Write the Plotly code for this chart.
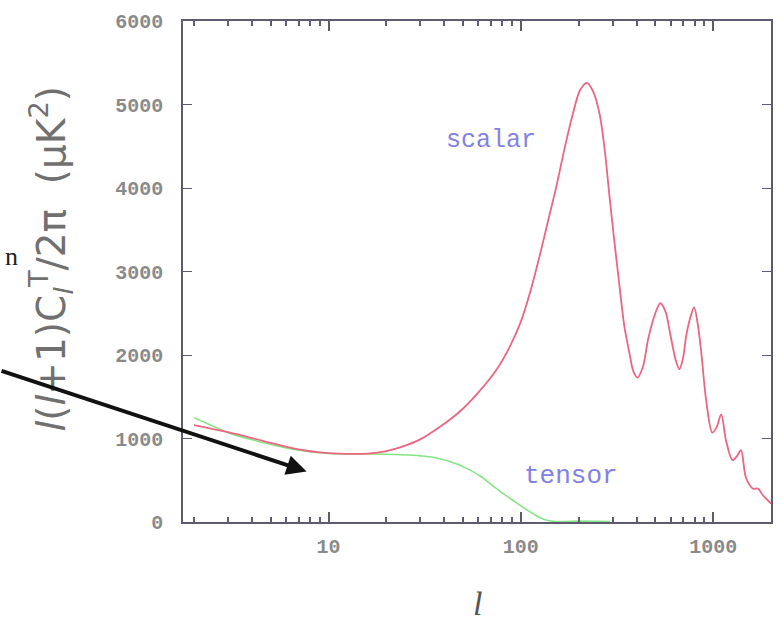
import plotly.graph_objects as go

# ---- data ----
scalar_l = [2, 3, 4.6, 7, 10, 13, 16, 20, 24, 30, 38, 48, 60, 75, 88, 100, 112, 125, 139, 153,
            169, 186, 203, 220, 237, 257, 273, 289, 305, 323, 345, 367, 385, 404, 430, 460, 500,
            531, 565, 599, 640, 666, 695, 725, 765, 796, 830, 866, 920, 989, 1040, 1100, 1167,
            1260, 1330, 1395, 1480, 1610, 1710, 1800, 1900, 2000]
scalar_d = [1160, 1075, 970, 870, 825, 815, 820, 850, 900, 990, 1140, 1320, 1550, 1830, 2110,
            2400, 2760, 3180, 3620, 4020, 4480, 4880, 5170, 5260, 5160, 4880, 4450, 3900, 3400,
            2900, 2350, 2020, 1800, 1730, 1850, 2200, 2500, 2620, 2520, 2240, 1930, 1830, 1950,
            2240, 2470, 2570, 2380, 2040, 1450, 1070, 1130, 1290, 970, 740, 790, 860, 530, 400,
            400, 330, 270, 220]

tensor_l = [2, 2.5, 3, 4.6, 7, 10, 15, 20, 24, 30, 35, 42, 52, 62, 71, 82, 95, 110, 125, 140,
            160, 200, 250, 290]
tensor_d = [1250, 1150, 1070, 950, 860, 820, 815, 812, 805, 792, 775, 730, 645, 545, 440, 330,
            230, 130, 55, 15, 5, 10, 8, 5]

x_major = [10, 100, 1000]
x_major_text = ["10", "100", "1000"]
x_minor = [2, 3, 4, 5, 6, 7, 8, 9, 20, 30, 40, 50, 60, 70, 80, 90,
           200, 300, 400, 500, 600, 700, 800, 900, 2000]
y_ticks = [0, 1000, 2000, 3000, 4000, 5000, 6000]

x_range = [0.2435, 3.3005]

# ---- figure ----
fig = go.Figure()
fig.add_trace(go.Scatter(x=tensor_l, y=tensor_d, mode="lines",
                         line=dict(color="#86e486", width=1.6, shape="spline", smoothing=0.9),
                         showlegend=False, hoverinfo="skip"))
fig.add_trace(go.Scatter(x=scalar_l, y=scalar_d, mode="lines",
                         line=dict(color="#ec6682", width=1.8, shape="spline", smoothing=0.9),
                         showlegend=False, hoverinfo="skip"))
# invisible trace so the top tick axis is drawn
fig.add_trace(go.Scatter(x=[10], y=[0], xaxis="x2", mode="markers",
                         marker=dict(opacity=0), showlegend=False, hoverinfo="skip"))

axis_col = "#5f5a70"
tick_font = dict(family="Liberation Mono", size=20, color="#8a8a8a", weight="bold")

fig.update_layout(
    width=784, height=644,
    margin=dict(l=183, r=11, t=17, b=122),
    paper_bgcolor="white", plot_bgcolor="white",
    xaxis=dict(type="log", range=x_range,
               tickmode="array", tickvals=x_major, ticktext=x_major_text,
               ticks="inside", ticklen=10, tickwidth=1.5, tickcolor=axis_col,
               minor=dict(tickmode="array", tickvals=x_minor, ticks="inside",
                          ticklen=5, tickwidth=1.5, tickcolor=axis_col, showgrid=False),
               showline=True, linecolor=axis_col, linewidth=1.5, mirror=True,
               showgrid=False, zeroline=False, tickfont=tick_font, ticklabelstandoff=5),
    xaxis2=dict(type="log", range=x_range, overlaying="x", anchor="y", side="top",
                tickmode="array", tickvals=x_major, showticklabels=False,
                ticks="inside", ticklen=10, tickwidth=1.5, tickcolor=axis_col,
                minor=dict(tickmode="array", tickvals=x_minor, ticks="inside",
                           ticklen=5, tickwidth=1.5, tickcolor=axis_col, showgrid=False),
                showline=False, showgrid=False, zeroline=False),
    yaxis=dict(range=[0, 6000], tickvals=y_ticks,
               ticks="inside", ticklen=9, tickwidth=1.2, tickcolor=axis_col,
               showline=True, linecolor=axis_col, linewidth=1.5, mirror="ticks",
               showgrid=False, zeroline=False, tickfont=tick_font, ticklabelstandoff=14),
)

def px_x(px):
    return (px - 183) / 590.0

def px_y(py):
    return (522 - py) / 505.0

annos = [
    dict(text="scalar", x=px_x(492), y=px_y(137),
         font=dict(family="Liberation Mono", size=25, color="#8282e2")),
    dict(text="tensor", x=px_x(572), y=px_y(476),
         font=dict(family="Liberation Mono", size=26, color="#8282e2")),
    dict(text="<i>l</i>(<i>l</i>+1)C<sub><i>l</i></sub><sup>T</sup>/2π  (μK<sup>2</sup>)",
         x=px_x(51), y=px_y(256), textangle=-90,
         font=dict(family="DejaVu Sans", size=39, color="#707070")),
    dict(text="<i>l</i>", x=px_x(478), y=px_y(604),
         font=dict(family="Liberation Serif", size=34, color="#555555")),
    dict(text="n", x=px_x(2), y=px_y(254), xanchor="left",
         font=dict(family="Liberation Serif", size=26, color="#222222")),
]
for a in annos:
    a.setdefault("xref", "paper")
    a.setdefault("yref", "paper")
    a.setdefault("xanchor", "center")
    a.setdefault("yanchor", "middle")
    a.setdefault("showarrow", False)
    fig.add_annotation(**a)

# black arrow coming from the left edge
fig.add_annotation(xref="paper", yref="paper", x=px_x(307), y=px_y(471),
                   ax=-320, ay=-101, axref="pixel", ayref="pixel",
                   showarrow=True, arrowhead=2, arrowsize=1.0, arrowwidth=4,
                   arrowcolor="#111111", text="")

fig.write_html("out.html")
